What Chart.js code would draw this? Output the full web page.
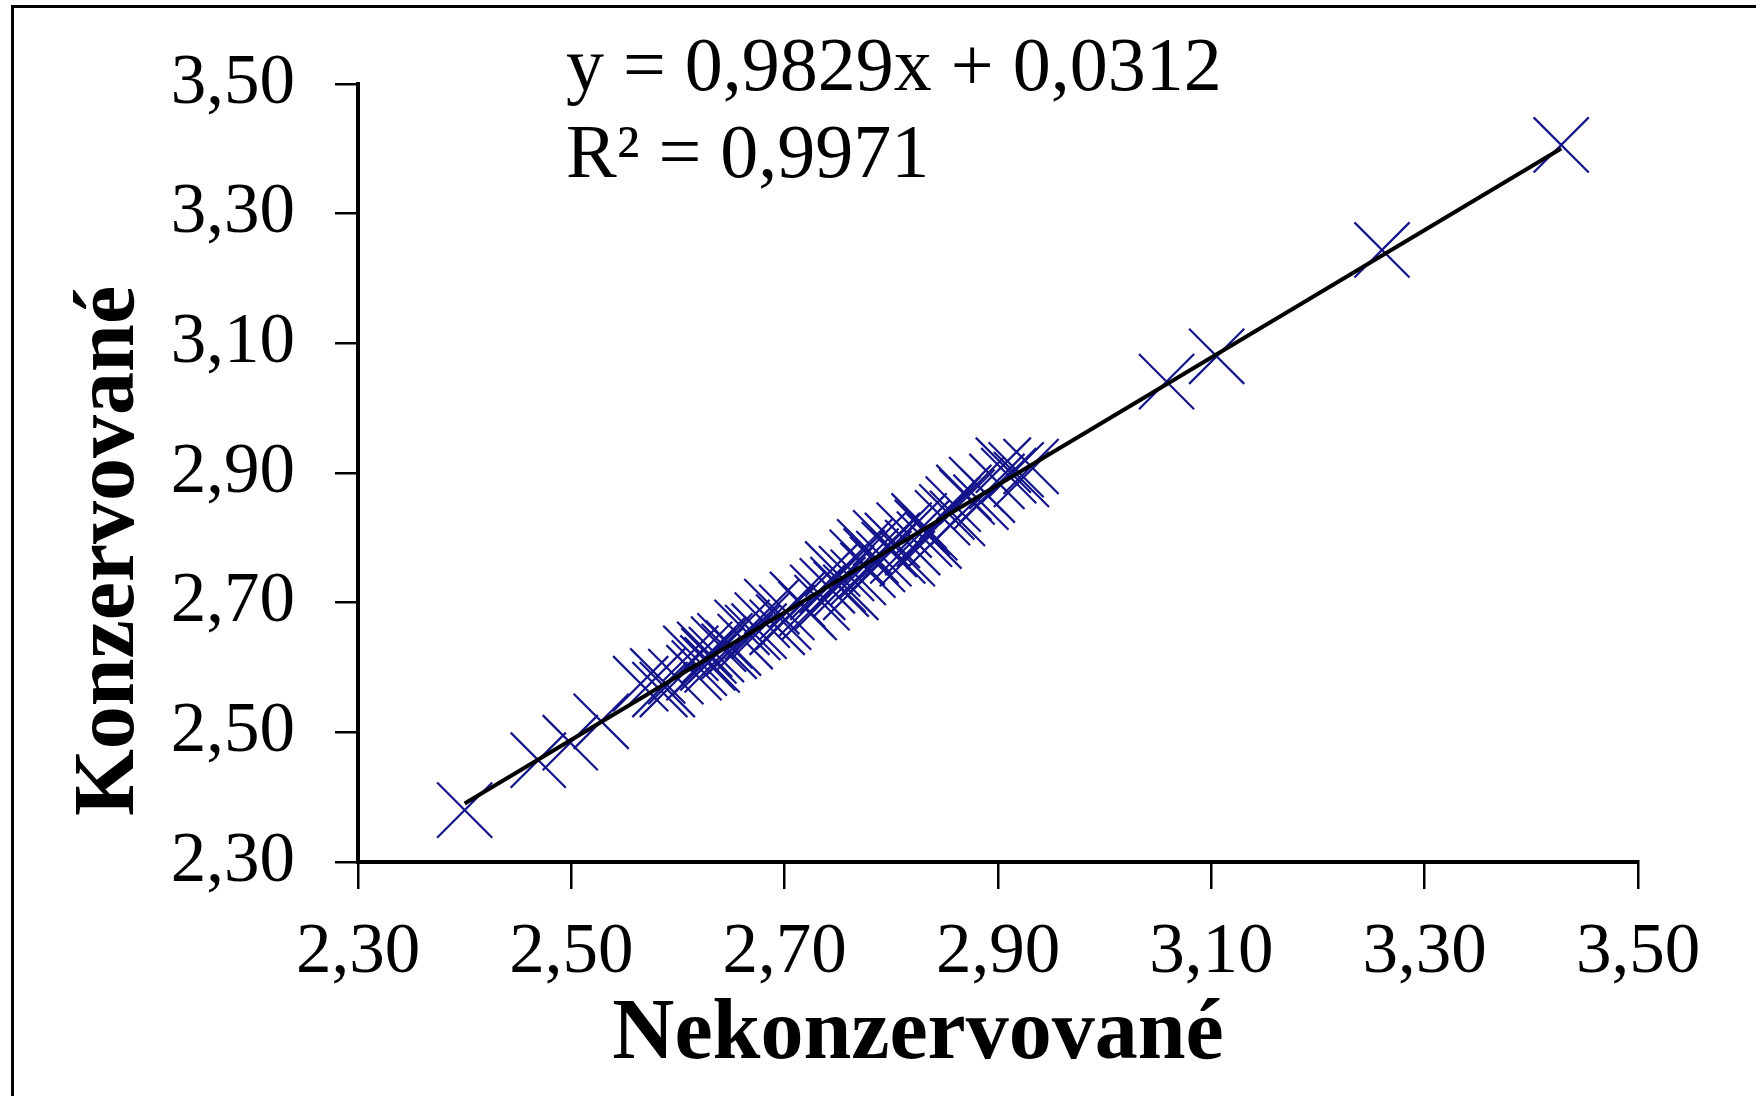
<!DOCTYPE html>
<html>
<head>
<meta charset="utf-8">
<script src="https://cdn.jsdelivr.net/npm/chart.js@4.4.1/dist/chart.umd.min.js"></script>
<style>
  html, body { margin: 0; padding: 0; background: #fff; overflow: hidden; }
  #wrap { position: relative; width: 1756px; height: 1096px; }
  #frame { position: absolute; left: 11px; top: 5px; width: 1760px; height: 1200px;
           border-left: 3px solid #000; border-top: 3px solid #000; pointer-events: none; }
  canvas { position: absolute; left: 0; top: 0; }
</style>
</head>
<body>
<div id="wrap">
  <canvas id="chart" width="1756" height="1096"></canvas>
  <div id="frame"></div>
</div>
<script>
'use strict';

// Nekonzervované (x) vs. Konzervované (y)
const xValues = [
  2.400, 2.469, 2.499, 2.528, 2.565, 2.581, 2.583, 2.590, 2.598, 2.612,
  2.615, 2.620, 2.625, 2.629, 2.628, 2.632, 2.638, 2.636, 2.644, 2.648,
  2.652, 2.660, 2.663, 2.670, 2.679, 2.676, 2.688, 2.693, 2.699, 2.702,
  2.712, 2.720, 2.723, 2.731, 2.735, 2.740, 2.745, 2.750, 2.753, 2.758,
  2.762, 2.768, 2.769, 2.775, 2.778, 2.781, 2.787, 2.790, 2.793, 2.798,
  2.801, 2.806, 2.812, 2.815, 2.820, 2.826, 2.829, 2.831, 2.836, 2.840,
  2.848, 2.852, 2.858, 2.862, 2.871, 2.868, 2.880, 2.884, 2.890, 2.899,
  2.905, 2.910, 2.917, 2.922, 2.931, 3.058, 3.105, 3.260, 3.428
];
const yValues = [
  2.380, 2.457, 2.484, 2.517, 2.575, 2.587, 2.566, 2.566, 2.586, 2.622,
  2.592, 2.599, 2.628, 2.618, 2.607, 2.604, 2.636, 2.620, 2.641, 2.625,
  2.630, 2.662, 2.640, 2.654, 2.673, 2.656, 2.694, 2.662, 2.670, 2.685,
  2.705, 2.690, 2.685, 2.716, 2.700, 2.726, 2.752, 2.728, 2.721, 2.745,
  2.716, 2.770, 2.739, 2.786, 2.750, 2.772, 2.759, 2.800, 2.768, 2.782,
  2.796, 2.772, 2.812, 2.768, 2.785, 2.826, 2.816, 2.798, 2.808, 2.795,
  2.831, 2.840, 2.852, 2.830, 2.863, 2.870, 2.882, 2.855, 2.866, 2.887,
  2.912, 2.896, 2.905, 2.890, 2.910, 3.041, 3.080, 3.244, 3.406
];

// axis ticks
const xTicks = [2.30, 2.50, 2.70, 2.90, 3.10, 3.30, 3.50];
const yTicks = [2.30, 2.50, 2.70, 2.90, 3.10, 3.30, 3.50];

// trendline from the shown equation
const slope = 0.9829;
const intercept = 0.0312;
const eqLines = ['y = 0,9829x + 0,0312', 'R² = 0,9971'];

const xTitle = 'Nekonzervované';
const yTitle = 'Konzervované';

const points = xValues.map((x, i) => ({ x: x, y: yValues[i] }));
const xMin = Math.min(...xValues);
const xMax = Math.max(...xValues);
const trend = [
  { x: xMin, y: slope * xMin + intercept },
  { x: xMax, y: slope * xMax + intercept }
];

const serif = '"Liberation Serif", "Times New Roman", serif';
const fmt = v => Number(v).toFixed(2).replace('.', ',');

// text that sits outside the chart's own boxes
const labelsPlugin = {
  id: 'labels',
  afterDraw(chart) {
    const ctx = chart.ctx;
    ctx.save();
    ctx.fillStyle = '#000';
    ctx.textBaseline = 'alphabetic';

    ctx.font = '76px ' + serif;
    ctx.textAlign = 'left';
    ctx.fillText(eqLines[0], 566, 90);
    ctx.fillText(eqLines[1], 566, 177);

    ctx.font = 'bold 86px ' + serif;
    ctx.textAlign = 'center';
    ctx.fillText(xTitle, 918, 1058);

    ctx.translate(133, 551);
    ctx.rotate(-Math.PI / 2);
    ctx.fillText(yTitle, 0, 0);
    ctx.restore();
  }
};

function axis(ticks, tickLen, pad, fitKey, fitVal) {
  return {
    type: 'linear',
    min: ticks[0],
    max: ticks[ticks.length - 1],
    afterBuildTicks: s => { s.ticks = ticks.map(v => ({ value: v })); },
    afterFit: s => { s[fitKey] = fitVal; },
    ticks: {
      color: '#000',
      padding: pad,
      font: { family: serif, size: 71 },
      callback: v => fmt(v),
      maxRotation: 0,
      autoSkip: false
    },
    grid: {
      drawOnChartArea: false,
      drawTicks: true,
      tickLength: tickLen,
      color: '#000',
      lineWidth: 2.5
    },
    border: { display: true, color: '#000', width: 4 }
  };
}

new Chart(document.getElementById('chart'), {
  type: 'scatter',
  data: {
    datasets: [
      {
        data: points,
        pointStyle: 'crossRot',
        pointRadius: 39,
        pointHoverRadius: 39,
        borderColor: '#14148c',
        backgroundColor: 'rgba(0,0,0,0)',
        pointBorderWidth: 2.2,
        clip: false,
        order: 2
      },
      {
        type: 'line',
        data: trend,
        borderColor: '#000',
        borderWidth: 4,
        pointRadius: 0,
        fill: false,
        clip: false,
        order: 1
      }
    ]
  },
  options: {
    responsive: false,
    animation: false,
    devicePixelRatio: 1,
    layout: { padding: { left: 0, top: 84, right: 118, bottom: 0 } },
    plugins: {
      legend: { display: false },
      tooltip: { enabled: false }
    },
    scales: {
      x: axis(xTicks, 27, 22, 'height', 234),
      y: axis(yTicks, 23, 40, 'width', 358)
    }
  },
  plugins: [labelsPlugin]
});
</script>
</body>
</html>
